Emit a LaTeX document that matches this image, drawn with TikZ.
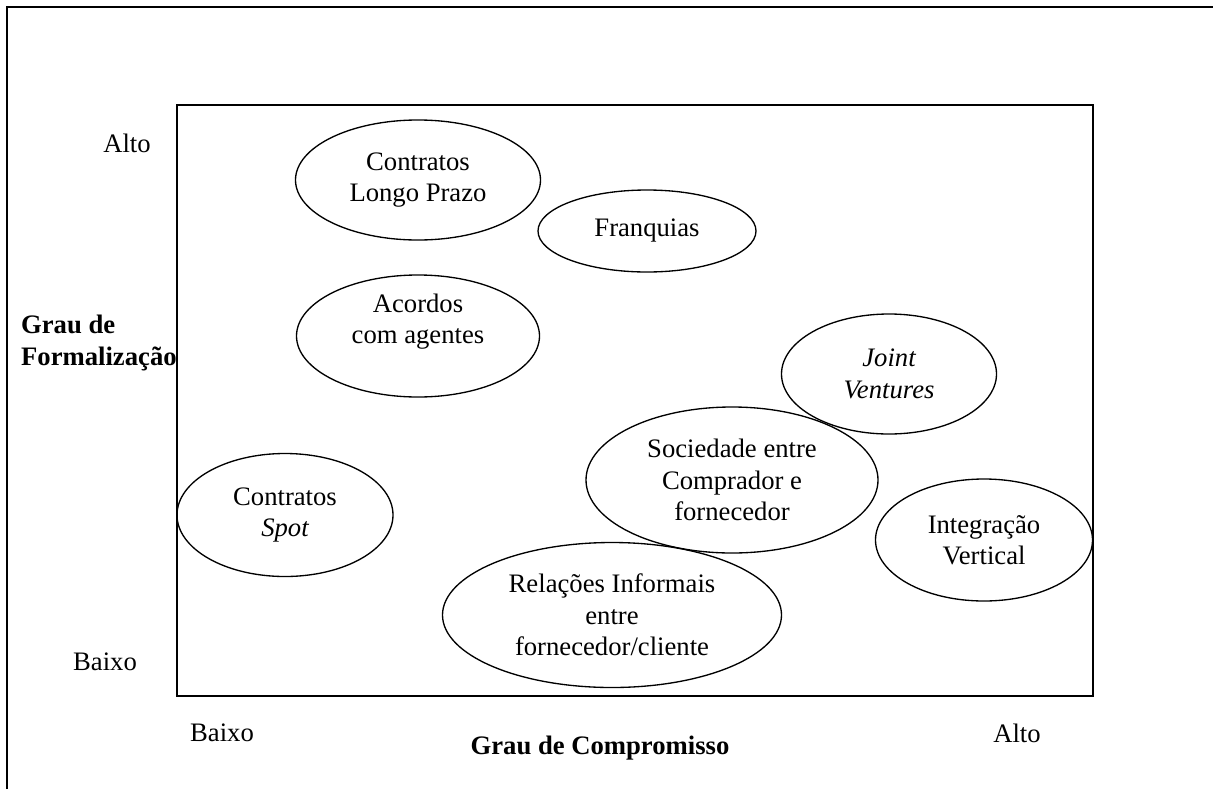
\documentclass[tikz,border=0pt]{standalone}
\usepackage{fontspec}
\setmainfont{Liberation Serif}
\usetikzlibrary{shapes}
\tikzset{
    frame/.style = {draw=black, line width=1.5pt},
    oval/.style = {ellipse, draw=black, line width=1pt, inner sep=0pt, align=center},
    ovalsize/.style 2 args = {minimum width=#1*0.75pt, minimum height=#2*0.75pt},
    axislabel/.style = {align=center},
    axistitle/.style = {align=left, font=\bfseries},
    every picture/.style={font issue=\fontsize{20pt}{23.5pt}\selectfont},
    font issue/.style={execute at begin picture={#1}}
}
\begin{document}
\begin{tikzpicture}[x=0.75pt, y=-0.75pt]
\useasboundingbox (0,0) rectangle (1213,789);
%
\draw[frame] (7,789) |- (1213,7);
\draw[frame] (177,105) rectangle (1093,696);
%
\node[oval, ovalsize={245}{120}] at (418, 180) (longo) {Contratos\\Longo Prazo};
\node[oval, ovalsize={218}{82}] at (647, 231) (franquias) {Franquias};
\node[oval, ovalsize={243}{122}, label={[axislabel, yshift=11pt]center:Acordos\\com agentes}] at (418, 336) (acordos) {};
\node[oval, ovalsize={215}{120}] at (889, 374) (joint) {\itshape Joint\\\itshape Ventures};
\node[oval, ovalsize={292}{146}] at (732, 480) (sociedade) {Sociedade entre\\Comprador e\\fornecedor};
\node[oval, ovalsize={216}{123}] at (285, 515) (spot) {Contratos\\\itshape Spot};
\node[oval, ovalsize={217}{122}] at (984, 540) (integracao) {Integração\\Vertical};
\node[oval, ovalsize={339}{145}] at (612, 615) (relacoes) {Relações Informais\\entre\\fornecedor/cliente};
%
\node[axislabel] at (127, 143) (altoy) {Alto};
\node[axislabel] at (105, 662) (baixoy) {Baixo};
\node[axistitle, anchor=west] at (12, 343) (formal) {Grau de\\Formalização};
\node[axislabel] at (222, 733) (baixox) {Baixo};
\node[axislabel] at (1017, 733) (altox) {Alto};
\node[axistitle] at (600, 748) (compromisso) {Grau de Compromisso};

\end{tikzpicture}
\end{document}
